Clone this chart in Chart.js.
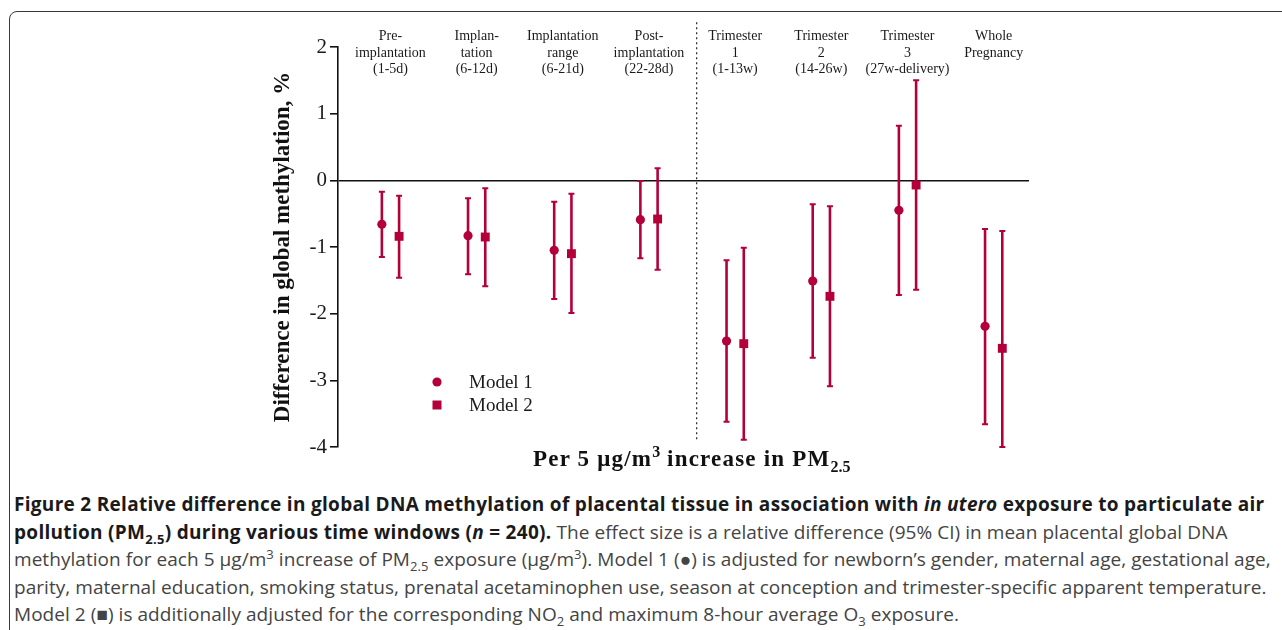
<!DOCTYPE html>
<html>
<head>
<meta charset="utf-8">
<script src="https://cdn.jsdelivr.net/npm/chart.js@4.4.1/dist/chart.umd.min.js"></script>
<style>
  html, body { margin: 0; padding: 0; background: #fff; width: 1282px; height: 630px; overflow: hidden; }
  #frame { position: absolute; left: 9px; top: 11px; width: 1400px; height: 800px;
           border: 1.5px solid #3a3a3a; border-radius: 8px; }
  #c { position: absolute; left: 0; top: 0; }
  #xtitle { position: absolute; left: 533px; top: 446px; white-space: nowrap; letter-spacing: 1.2px;
            font: bold 23px "Liberation Serif", serif; color: #111; }
  #xtitle sup, #xtitle sub { font-size: 16px; line-height: 0; letter-spacing: 0; }
  #caption { position: absolute; left: 14px; top: 491px; white-space: nowrap;
             font: 19px "Open Sans", sans-serif; line-height: 27.5px; color: #444; letter-spacing: 0.05px; }
  #caption b { color: #1a1a1a; font-weight: 700; letter-spacing: 0.3px; }
  #caption sub, #caption sup { font-size: 13px; line-height: 0; }
</style>
</head>
<body>
<div id="frame"></div>
<canvas id="c" width="1282" height="480"></canvas>
<div id="xtitle">Per 5 μg/m<sup>3</sup> increase in PM<sub>2.5</sub></div>
<div id="caption"><b>Figure 2 Relative difference in global DNA methylation of placental tissue in association with <i>in utero</i> exposure to particulate air<br>pollution (PM<sub>2.5</sub>) during various time windows (<i>n</i> = 240).</b> The effect size is a relative difference (95% CI) in mean placental global DNA<br>methylation for each 5 μg/m<sup>3</sup> increase of PM<sub>2.5</sub> exposure (μg/m<sup>3</sup>). Model 1 (●) is adjusted for newborn’s gender, maternal age, gestational age,<br>parity, maternal education, smoking status, prenatal acetaminophen use, season at conception and trimester-specific apparent temperature.<br>Model 2 (■) is additionally adjusted for the corresponding NO<sub>2</sub> and maximum 8-hour average O<sub>3</sub> exposure.</div>
<script>
// exposure windows, shown along the top
const windows = [
  ["Pre-", "implantation", "(1-5d)"],
  ["Implan-", "tation", "(6-12d)"],
  ["Implantation", "range", "(6-21d)"],
  ["Post-", "implantation", "(22-28d)"],
  ["Trimester", "1", "(1-13w)"],
  ["Trimester", "2", "(14-26w)"],
  ["Trimester", "3", "(27w-delivery)"],
  ["Whole", "Pregnancy", ""]
];

// Model 1 estimates and 95% CI
const m1Est = [-0.66, -0.83, -1.05, -0.59, -2.41, -1.51, -0.45, -2.19];
const m1Lo  = [-1.15, -1.41, -1.78, -1.17, -3.62, -2.66, -1.72, -3.66];
const m1Hi  = [-0.17, -0.27, -0.32, -0.01, -1.20, -0.36,  0.82, -0.73];

// Model 2 estimates and 95% CI
const m2Est = [-0.84, -0.85, -1.10, -0.58, -2.45, -1.74, -0.07, -2.52];
const m2Lo  = [-1.46, -1.59, -1.99, -1.34, -3.89, -3.09, -1.64, -4.00];
const m2Hi  = [-0.23, -0.12, -0.20,  0.18, -1.01, -0.39,  1.50, -0.76];

const yTicks = [2, 1, 0, -1, -2, -3, -4];

// dashed divider between the early windows and the trimesters
const dividerX = 4.553;
const dividerY = [2.37, -3.92];

const RED = "#b4003a";
const SERIF = "'Liberation Serif', 'DejaVu Serif', serif";
const offset = 0.1;

const pts = (est, d) => est.map((v, i) => ({ x: i + 1 + d, y: v }));

const errorBars = {
  id: "errorBars",
  beforeDatasetsDraw(chart) {
    const ctx = chart.ctx;
    const y = chart.scales.y;
    [[m1Lo, m1Hi], [m2Lo, m2Hi]].forEach(([lo, hi], di) => {
      const meta = chart.getDatasetMeta(di);
      ctx.save();
      ctx.strokeStyle = RED;
      meta.data.forEach((el, j) => {
        const x = el.x;
        const y1 = y.getPixelForValue(lo[j]);
        const y2 = y.getPixelForValue(hi[j]);
        ctx.lineWidth = 2.6;
        ctx.beginPath();
        ctx.moveTo(x, y1);
        ctx.lineTo(x, y2);
        ctx.stroke();
        ctx.lineWidth = 2;
        ctx.beginPath();
        ctx.moveTo(x - 3, y1); ctx.lineTo(x + 3, y1);
        ctx.moveTo(x - 3, y2); ctx.lineTo(x + 3, y2);
        ctx.stroke();
      });
      ctx.restore();
    });
  }
};

const topLabels = {
  id: "topLabels",
  afterDraw(chart) {
    const ctx = chart.ctx;
    const x = chart.scales.x;
    const top = chart.chartArea.top;
    ctx.save();
    ctx.font = "14px " + SERIF;
    ctx.fillStyle = "#1a1a1a";
    ctx.textAlign = "center";
    ctx.textBaseline = "alphabetic";
    windows.forEach((lines, i) => {
      const px = x.getPixelForValue(i + 1);
      lines.forEach((t, k) => ctx.fillText(t, px, top - 7 + k * 16.5));
    });
    ctx.restore();
  }
};

const innerLegend = {
  id: "innerLegend",
  afterDraw(chart) {
    const ctx = chart.ctx;
    const a = chart.chartArea;
    ctx.save();
    ctx.font = "19px " + SERIF;
    ctx.textBaseline = "middle";
    chart.data.datasets.slice(0, 2).forEach((ds, i) => {
      const cx = a.left + 99;
      const cy = a.top + 335 + i * 23;
      ctx.fillStyle = RED;
      ctx.beginPath();
      if (ds.pointStyle === "rect") ctx.rect(cx - 4.5, cy - 4.5, 9, 9);
      else ctx.arc(cx, cy, 4.6, 0, Math.PI * 2);
      ctx.fill();
      ctx.fillStyle = "#1a1a1a";
      ctx.fillText(ds.label, cx + 32, cy + 1);
    });
    ctx.restore();
  }
};

new Chart(document.getElementById("c"), {
  type: "scatter",
  data: {
    datasets: [
      { label: "Model 1", data: pts(m1Est, -offset), pointStyle: "circle",
        pointRadius: 4.6, backgroundColor: RED, borderWidth: 0, clip: false },
      { label: "Model 2", data: pts(m2Est, offset), pointStyle: "rect",
        pointRadius: 6.3, backgroundColor: RED, borderWidth: 0, clip: false },
      { label: "divider", data: dividerY.map(v => ({ x: dividerX, y: v })),
        showLine: true, borderColor: "#333", borderWidth: 1.3, borderDash: [2, 3],
        pointRadius: 0, clip: false }
    ]
  },
  options: {
    responsive: false,
    animation: false,
    devicePixelRatio: 1,
    layout: { padding: { left: 269, right: 253, top: 47, bottom: 33 } },
    plugins: { legend: { display: false }, tooltip: { enabled: false } },
    scales: {
      x: { type: "linear", min: 0.391, max: 8.41, display: false },
      y: {
        min: -4, max: 2,
        afterFit: s => { s.width = 69; },
        afterBuildTicks: s => { s.ticks = yTicks.map(v => ({ value: v })); },
        ticks: { font: { family: SERIF, size: 21 }, color: "#1a1a1a", padding: 3 },
        grid: {
          color: c => (c.tick && c.tick.value === 0 ? "#111" : "rgba(0,0,0,0)"),
          tickColor: "#111", tickLength: 8, lineWidth: 1.6
        },
        border: { color: "#111", width: 1.6 },
        title: {
          display: true, text: "Difference in global methylation, %",
          font: { family: SERIF, size: 23, weight: "bold" }, color: "#111",
          padding: { top: 0, bottom: 0 }
        }
      }
    }
  },
  plugins: [errorBars, topLabels, innerLegend]
});
</script>
</body>
</html>
